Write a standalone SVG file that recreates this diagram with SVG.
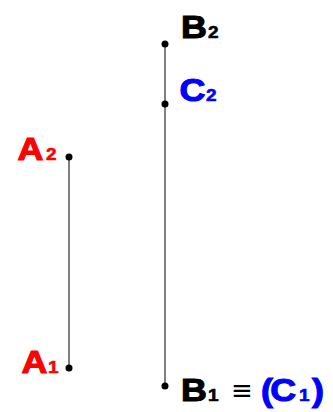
<svg xmlns="http://www.w3.org/2000/svg" width="333" height="412" viewBox="0 0 333 412">
<defs>
<style>
text{font-family:"Liberation Sans",Arial,sans-serif;font-weight:bold}
.big{font-size:32px;stroke-width:1.1}
.sm{font-size:17px;stroke-width:0.6}
.r{fill:#ff0000;stroke:#ff0000}
.b{fill:#0000ff;stroke:#0000ff}
.k{fill:#000;stroke:#000}
.seg{stroke:#000;stroke-width:1}
</style>
</defs>
<rect width="333" height="412" fill="#fff"/>
<g id="connectors">
<line class="seg" x1="69" y1="157" x2="69" y2="368"/>
<line class="seg" x1="165" y1="44" x2="165" y2="386"/>
</g>
<g id="A2"><circle cx="69" cy="157" r="3.5" fill="#000"/><text class="big r" transform="translate(17.5,160) scale(1.12,1)">A</text><text class="sm r" transform="translate(46,160) scale(1.12,1)">2</text></g>
<g id="A1"><circle cx="69" cy="368" r="3.5" fill="#000"/><text class="big r" transform="translate(21.5,373) scale(1.12,1)">A</text><text class="sm r" transform="translate(48,373) scale(1.12,1)">1</text></g>
<g id="B2"><circle cx="165" cy="44" r="3.5" fill="#000"/><text class="big k" transform="translate(181,38) scale(1.12,1)">B</text><text class="sm k" transform="translate(208,38) scale(1.12,1)">2</text></g>
<g id="C2"><circle cx="165" cy="104" r="3.5" fill="#000"/><text class="big b" transform="translate(179.5,101) scale(1.12,1)">C</text><text class="sm b" transform="translate(206,101) scale(1.12,1)">2</text></g>
<g id="B1"><circle cx="165" cy="386" r="3.5" fill="#000"/><text class="big k" transform="translate(181,401) scale(1.12,1)">B</text><text class="sm k" transform="translate(208,401) scale(1.12,1)">1</text>
<text x="231" y="399" style="font-family:'DejaVu Sans',sans-serif;font-weight:normal;font-size:26px" fill="#000">≡</text>
<text class="big b" transform="translate(261,401) scale(1.12,1)" letter-spacing="-2.5">(C</text><text class="sm b" transform="translate(299,401) scale(1.12,1)">1</text><text class="big b" transform="translate(312,401) scale(1.12,1)">)</text></g>
</svg>
